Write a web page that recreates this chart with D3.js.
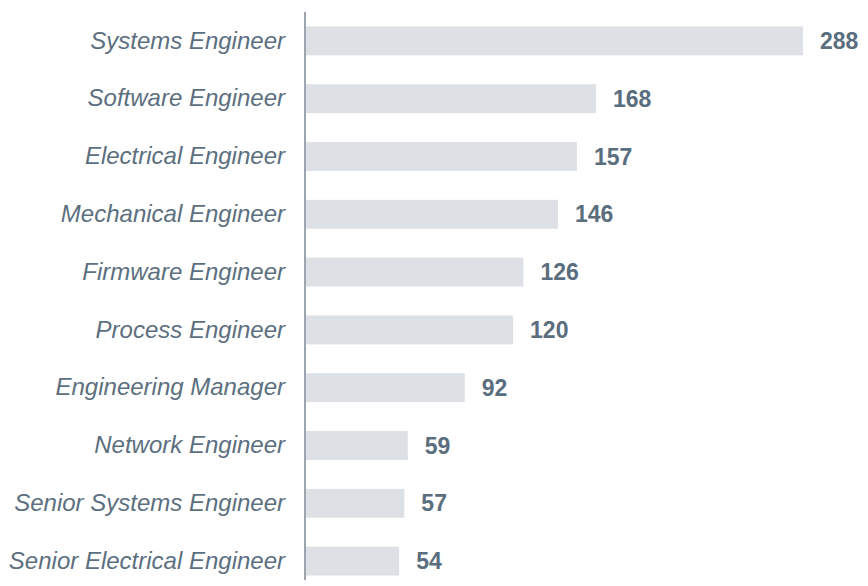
<!DOCTYPE html>
<html><head><meta charset="utf-8">
<script src="https://cdn.jsdelivr.net/npm/d3@7"></script>
<style>body{margin:0;background:#fff}svg{display:block}</style>
</head><body>
<script>
const categories = ["Systems Engineer","Software Engineer","Electrical Engineer","Mechanical Engineer","Firmware Engineer","Process Engineer","Engineering Manager","Network Engineer","Senior Systems Engineer","Senior Electrical Engineer"];
const values = [288,168,157,146,126,120,92,59,57,54];

const W = 868, H = 586;
const x0 = 306;
const svg = d3.select("body").append("svg").attr("width", W).attr("height", H);
const x = d3.scaleLinear().domain([0, 288]).range([x0, 803]);
const y = d3.scaleBand().domain(categories).range([12, 590]).paddingInner(0.5).paddingOuter(0.25);

svg.selectAll("rect.bar").data(values).join("rect")
  .attr("class","bar")
  .attr("x", x(0))
  .attr("y", (d,i) => y(categories[i]))
  .attr("width", d => x(d) - x(0))
  .attr("height", y.bandwidth())
  .attr("fill", "#dde1e5");

svg.selectAll("text.val").data(values).join("text")
  .attr("class","val")
  .attr("x", d => x(d) + 17)
  .attr("y", (d,i) => y(categories[i]) + y.bandwidth()/2)
  .attr("dy", "0.35em")
  .attr("font-family", "'Liberation Sans', Arial, sans-serif")
  .attr("font-weight", "bold")
  .attr("font-size", 23)
  .attr("fill", "#5a6e7e")
  .text(d => d);

const axis = d3.axisLeft(y).tickSize(0).tickPadding(20);
const g = svg.append("g").attr("transform", `translate(${x0 - 1},0)`).call(axis);
g.select(".domain").attr("stroke", "#7c8893").attr("stroke-width", 1.5).attr("d", "M0,12V580");
g.selectAll("text")
  .attr("font-family", "'Liberation Sans', Arial, sans-serif")
  .attr("font-style", "italic")
  .attr("font-size", 24)
  .attr("fill", "#5c6f7f");
</script>
</body></html>
